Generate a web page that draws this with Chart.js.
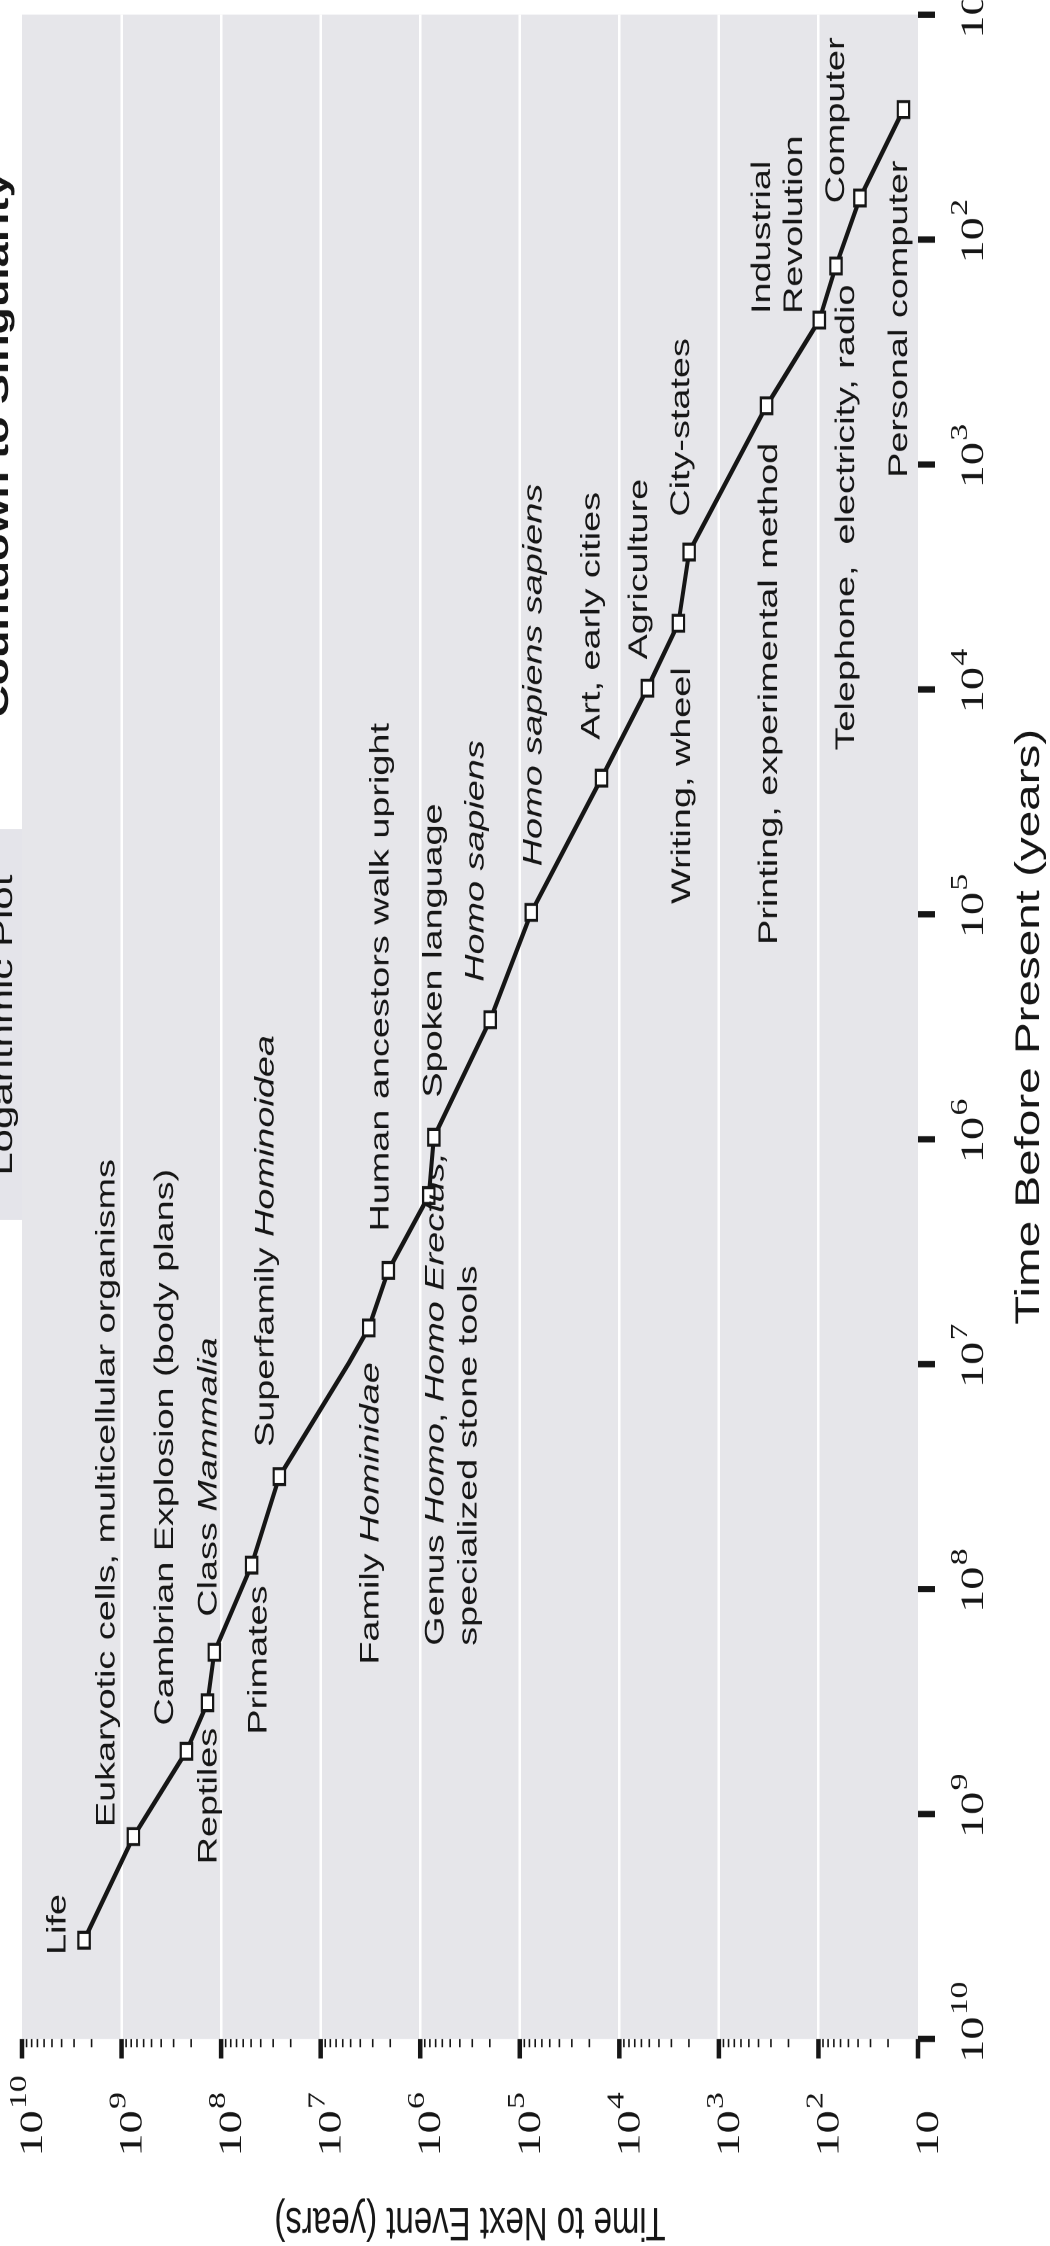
<!DOCTYPE html>
<html>
<head>
<meta charset="utf-8">
<script src="https://cdn.jsdelivr.net/npm/chart.js@4.4.1/dist/chart.umd.min.js"></script>
<style>
  html, body { margin: 0; padding: 0; background: #fff; overflow: hidden; }
  body { width: 1050px; height: 2246px; position: relative; }
  /* chart is drawn landscape, then turned a quarter left and stretched like the scan */
  #wrap { position: absolute; left: 0; top: 0; width: 1604px; height: 1050px;
          transform-origin: 0 0; transform: translate(0px, 2246px) rotate(-90deg) scale(1.4, 1); }
</style>
</head>
<body>
<div id="wrap"><canvas id="chart" width="1604" height="1050"></canvas></div>
<script>
// events ('' = bend in the line, no marker)
var events = ['Life', 'Eukaryotic cells', 'Cambrian Explosion', 'Reptiles', 'Class Mammalia',
  'Primates', 'Superfamily Hominoidea', '', 'Family Hominidae', 'Human ancestors walk upright',
  'Genus Homo', 'Spoken language', 'Homo sapiens', 'Homo sapiens sapiens', 'Art, early cities',
  'Agriculture', 'Writing, wheel', 'City-states', 'Printing', 'Industrial Revolution',
  'Telephone, electricity, radio', 'Computer', 'Personal computer'];

// years before present
var timeBefore = [3.64e9, 1.26e9, 5.26e8, 3.2e8, 1.91e8, 7.82e7, 3.16e7, 9.8e6, 6.9e6, 3.83e6,
  1.78e6, 9.8e5, 2.94e5, 9.8e4, 2.48e4, 9.87e3, 5.08e3, 2.45e3, 548, 228, 131, 65.3, 26.4];

// years to next event
var timeToNext = [2.38e9, 7.6e8, 2.23e8, 1.37e8, 1.17e8, 4.94e7, 2.6e7, 5.15e6, 3.29e6, 2.09e6,
  8.2e5, 7.3e5, 1.98e5, 7.66e4, 1.51e4, 5.22e3, 2.55e3, 1.99e3, 332, 98, 66.7, 38.3, 14];

// tick exponents (10^n) and minor steps
var xTickExps = [1, 2, 3, 4, 5, 6, 7, 8, 9, 10];
var yTickExps = [1, 2, 3, 4, 5, 6, 7, 8, 9, 10];
var minorSteps = [2, 3, 4, 5, 6, 7, 8, 9];

// annotation text (*...* = italic)
var noteText = ['Life', 'Eukaryotic cells, multicellular organisms', 'Cambrian Explosion (body plans)',
  'Reptiles', 'Class *Mammalia*', 'Primates', 'Superfamily *Hominoidea*', 'Family *Hominidae*',
  'Human ancestors walk upright', 'Genus *Homo*, *Homo Erectus,*', 'specialized stone tools',
  'Spoken language', '*Homo sapiens*', '*Homo sapiens sapiens*', 'Art, early cities', 'Agriculture',
  'Writing, wheel', 'City-states', 'Printing, experimental method', 'Industrial', 'Revolution',
  'Telephone,  electricity, radio', 'Computer', 'Personal computer'];

// where each note starts, as log10 of [time before present, time to next event]
var noteAnchor = [[9.627, 9.638], [9.058, 9.148], [8.607, 8.556], [9.224, 8.123], [8.123, 8.123],
  [8.647, 7.621], [7.368, 7.550], [8.336, 6.494], [6.410, 6.394], [8.252, 5.841], [8.252, 5.509],
  [5.815, 5.861], [5.300, 5.438], [4.786, 4.855], [4.224, 4.272], [3.867, 3.799], [4.954, 3.367],
  [3.232, 3.377], [5.136, 2.492], [2.331, 2.562], [2.331, 2.241], [4.271, 1.718], [1.839, 1.818],
  [3.059, 1.185]];

var ink = '#161616';
var plotGray = '#e6e6ea';
var sans = '"Liberation Sans", Arial, Helvetica, sans-serif';
var serif = '"Liberation Serif", "Times New Roman", serif';

// 10 with a raised exponent
function drawPower(ctx, e, x, base) {
  ctx.textAlign = 'left';
  ctx.textBaseline = 'alphabetic';
  ctx.font = '33px ' + serif;
  ctx.fillText('10', x, base);
  if (e > 1) {
    var w = ctx.measureText('10').width;
    ctx.font = '24px ' + serif;
    ctx.fillText(String(e), x + w + 1, base - 16);
  }
}

var plotBackground = {
  id: 'plotBackground',
  beforeDraw: function (chart) {
    var a = chart.chartArea, ctx = chart.ctx;
    ctx.save();
    ctx.fillStyle = plotGray;
    ctx.fillRect(a.left, a.top, a.right - a.left, a.bottom - a.top);
    // subtitle box and heading, cut off at the edge of the scan
    ctx.fillStyle = '#e4e4ea';
    ctx.fillRect(733, 0, 279, a.top);
    ctx.fillStyle = ink;
    ctx.textAlign = 'center';
    ctx.textBaseline = 'alphabetic';
    ctx.font = '30px ' + sans;
    ctx.fillText('Logarithmic Plot', 872, 12);
    ctx.textAlign = 'right';
    ctx.font = 'bold 32px ' + sans;
    ctx.fillText('Countdown to Singularity', 1481, 8);
    ctx.restore();
  }
};

var eventNotes = {
  id: 'eventNotes',
  afterDatasetsDraw: function (chart) {
    var ctx = chart.ctx, x = chart.scales.x, y = chart.scales.y;
    ctx.save();
    ctx.fillStyle = ink;
    ctx.textAlign = 'left';
    ctx.textBaseline = 'middle';
    noteText.forEach(function (txt, i) {
      var px = x.getPixelForValue(Math.pow(10, noteAnchor[i][0]));
      var py = y.getPixelForValue(Math.pow(10, noteAnchor[i][1]));
      txt.split('*').forEach(function (part, k) {
        ctx.font = (k % 2 ? 'italic ' : '') + '27px ' + sans;
        ctx.fillText(part, px, py);
        px += ctx.measureText(part).width;
      });
    });
    ctx.restore();
  }
};

var axisMarks = {
  id: 'axisMarks',
  afterDraw: function (chart) {
    var ctx = chart.ctx, a = chart.chartArea, x = chart.scales.x, y = chart.scales.y;
    ctx.save();
    ctx.fillStyle = ink;
    xTickExps.forEach(function (e) {
      var px = x.getPixelForValue(Math.pow(10, e));
      ctx.fillRect(px - 2.25, a.bottom, 4.5, 17);
      drawPower(ctx, e, px - 17, a.bottom + 65);
    });
    yTickExps.forEach(function (e, i) {
      var py = y.getPixelForValue(Math.pow(10, e));
      ctx.fillRect(a.left - 14, py - 2.25, 14, 4.5);
      drawPower(ctx, e, a.left - 84, py + 20);
      if (i < yTickExps.length - 1) {
        minorSteps.forEach(function (m) {
          var pm = y.getPixelForValue(m * Math.pow(10, e));
          ctx.fillRect(a.left - 6, pm - 0.8, 6, 1.6);
        });
      }
    });
    ctx.restore();
  }
};

var ctx = document.getElementById('chart').getContext('2d');

var countdown = new Chart(ctx, {
  type: 'line',
  data: {
    datasets: [{
      data: timeBefore.map(function (t, i) { return {x: t, y: timeToNext[i]}; }),
      borderColor: ink,
      borderWidth: 4,
      tension: 0,
      pointStyle: 'rect',
      pointRadius: function (c) { return events[c.dataIndex] ? 8 : 0; },
      pointBackgroundColor: '#fff',
      pointBorderColor: ink,
      pointBorderWidth: 2.2
    }]
  },
  options: {
    responsive: false,
    devicePixelRatio: 2,
    animation: false,
    events: [],
    layout: { padding: { top: 22, right: 7.6, bottom: 0, left: 0 } },
    plugins: { legend: { display: false }, tooltip: { enabled: false } },
    scales: {
      x: {
        type: 'logarithmic', reverse: true, min: 10, max: 1e10,
        border: { display: false },
        grid: { display: false, drawTicks: false },
        ticks: { display: false },
        title: {
          display: true, text: 'Time Before Present (years)', color: ink,
          font: { family: sans, size: 34 }, padding: { top: 91.2, bottom: 0 }
        }
      },
      y: {
        type: 'logarithmic', min: 10, max: 1e10,
        afterBuildTicks: function (s) {
          s.ticks = yTickExps.map(function (e) { return {value: Math.pow(10, e)}; });
        },
        border: { display: false },
        grid: {
          drawTicks: false, lineWidth: 2.5,
          color: function (c) { return (c.tick && (c.tick.value === 10 || c.tick.value === 1e10)) ? 'rgba(0,0,0,0)' : '#fff'; }
        },
        ticks: { display: false },
        title: {
          display: true, text: 'Time to Next Event (years)', color: ink,
          font: { family: sans, size: 33, lineHeight: 1.1 }, padding: { top: 0, bottom: 111.6 }
        }
      }
    }
  },
  plugins: [plotBackground, eventNotes, axisMarks]
});
</script>
</body>
</html>
